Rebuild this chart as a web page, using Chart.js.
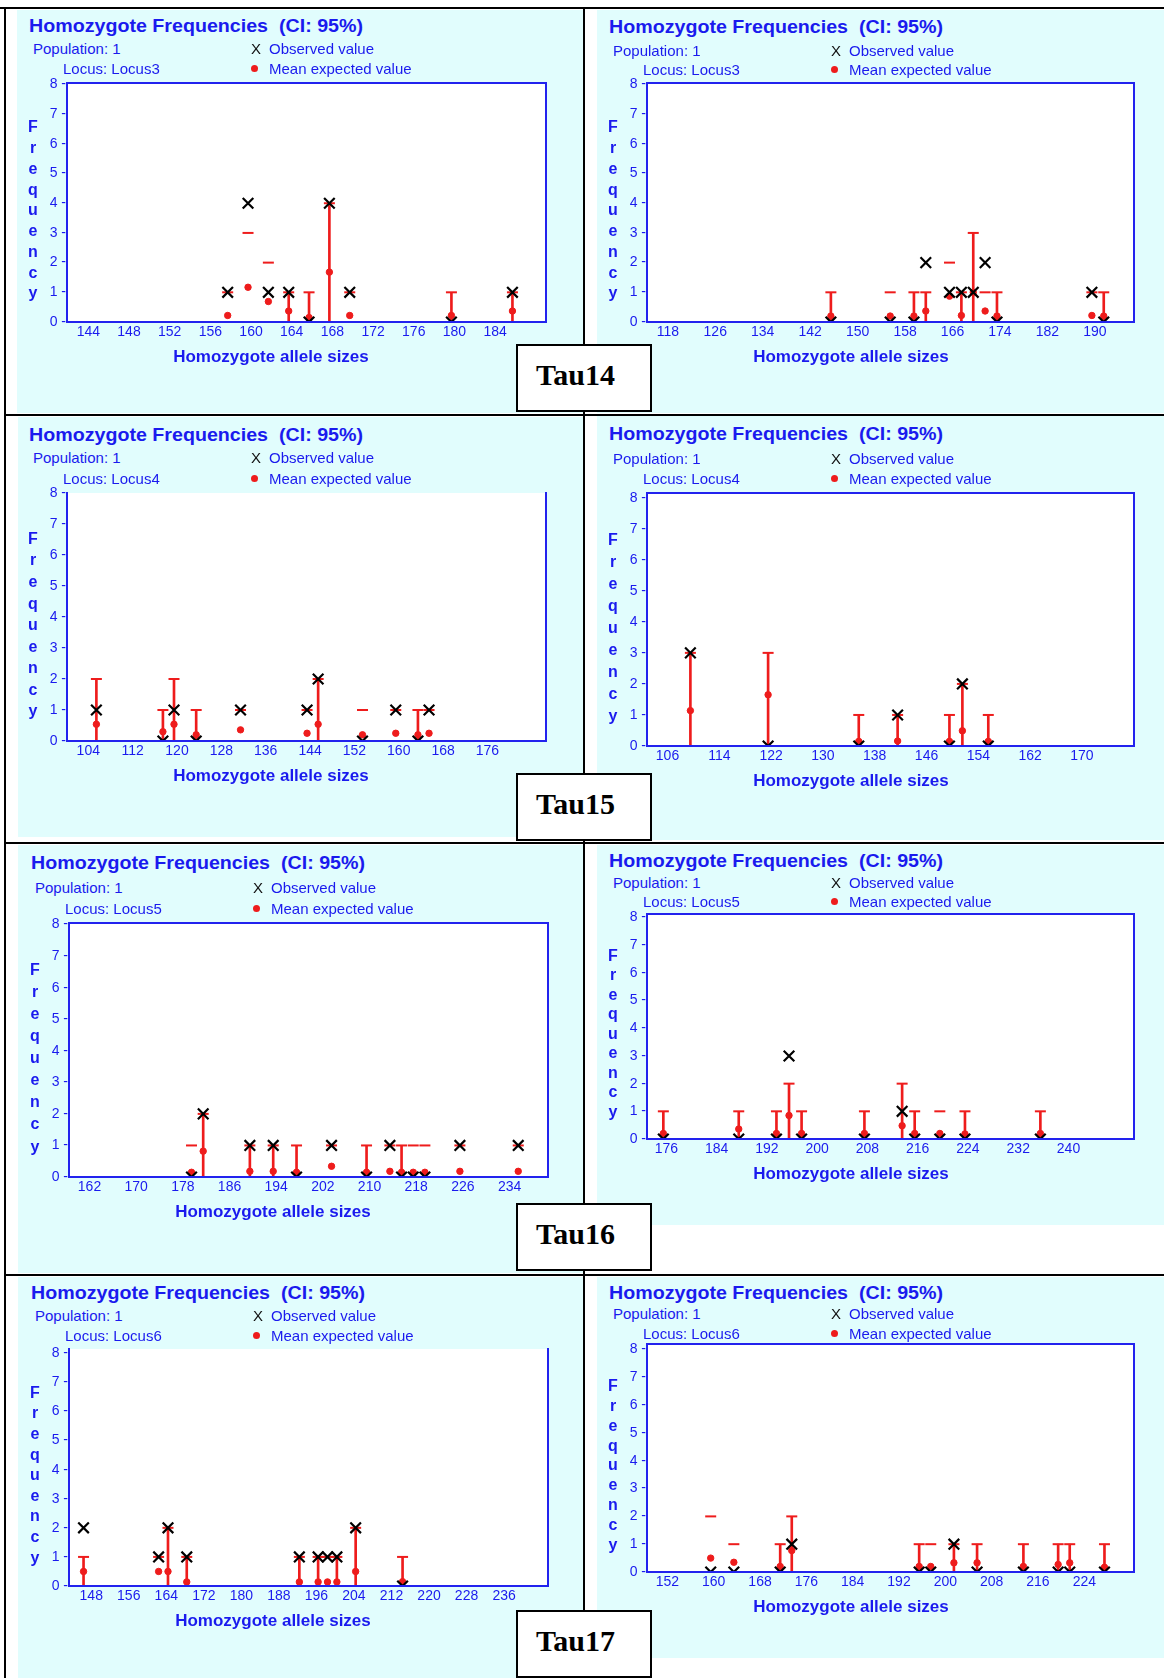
<!DOCTYPE html>
<html>
<head>
<meta charset="utf-8">
<title>Homozygote frequencies, Tau14–Tau17</title>
<script src="https://cdn.jsdelivr.net/npm/chart.js@4.4.1/dist/chart.umd.min.js"></script>
<style>
  html, body { margin: 0; padding: 0; background: #ffffff; }
  #page { position: relative; width: 1164px; height: 1678px; overflow: hidden; background: #ffffff;
          font-family: "Liberation Sans", Arial, sans-serif; }
  .abs { position: absolute; }
  .t { position: absolute; white-space: pre; }
</style>
</head>
<body>
<div id="page"></div>
<script>
// ---------- colours ----------
const BLUE = '#1a1aee';
const FRAME = '#2222ee';
const RED = '#ee1c1c';
const CYAN = '#e1fdfd';

// frequency ticks shared by every panel
const freqTicks = [0, 1, 2, 3, 4, 5, 6, 7, 8];

// ---------- Tau14, Locus3 ----------
const tau14L_ticks    = [144, 148, 152, 156, 160, 164, 168, 172, 176, 180, 184];
const tau14L_alleles  = [158, 160, 162, 164, 166, 168, 170, 180, 186];
const tau14L_observed = [1, 4, 1, 1, 0, 4, 1, 0, 1];
const tau14L_expected = [0.22, 1.17, 0.69, 0.37, 0.15, 1.68, 0.22, 0.22, 0.37];
const tau14L_ciLow    = [0, 0, 0, 0, 0, 0, 0, 0, 0];
const tau14L_ciHigh   = [1, 3, 2, 1, 1, 4, 1, 1, 1];
const tau14L_stem     = [0, 0, 0, 1, 1, 1, 0, 1, 1];

const tau14R_ticks    = [118, 126, 134, 142, 150, 158, 166, 174, 182, 190];
const tau14R_alleles  = [146, 156, 160, 162, 166, 168, 170, 172, 174, 190, 192];
const tau14R_observed = [0, 0, 0, 2, 1, 1, 1, 2, 0, 1, 0];
const tau14R_expected = [0.2, 0.2, 0.2, 0.37, 0.87, 0.22, 1.0, 0.37, 0.2, 0.22, 0.2];
const tau14R_ciLow    = [0, 0, 0, 0, 0, 0, 0, 0, 0, 0, 0];
const tau14R_ciHigh   = [1, 1, 1, 1, 2, 1, 3, 1, 1, 1, 1];
const tau14R_stem     = [1, 0, 1, 1, 0, 1, 1, 0, 1, 0, 1];

// ---------- Tau15, Locus4 ----------
const tau15L_ticks    = [104, 112, 120, 128, 136, 144, 152, 160, 168, 176];
const tau15L_alleles  = [106, 118, 120, 124, 132, 144, 146, 154, 160, 164, 166];
const tau15L_observed = [1, 0, 1, 0, 1, 1, 2, 0, 1, 0, 1];
const tau15L_expected = [0.54, 0.3, 0.54, 0.2, 0.36, 0.25, 0.54, 0.2, 0.25, 0.2, 0.25];
const tau15L_ciLow    = [0, 0, 0, 0, 0, 0, 0, 0, 0, 0, 0];
const tau15L_ciHigh   = [2, 1, 2, 1, 1, 1, 2, 1, 1, 1, 1];
const tau15L_stem     = [1, 1, 1, 1, 0, 0, 1, 0, 0, 1, 0];

const tau15R_ticks    = [106, 114, 122, 130, 138, 146, 154, 162, 170];
const tau15R_alleles  = [110, 122, 136, 142, 150, 152, 156];
const tau15R_observed = [3, 0, 0, 1, 0, 2, 0];
const tau15R_expected = [1.14, 1.65, 0.15, 0.16, 0.15, 0.49, 0.15];
const tau15R_ciLow    = [0, 0, 0, 0, 0, 0, 0];
const tau15R_ciHigh   = [3, 3, 1, 1, 1, 2, 1];
const tau15R_stem     = [1, 1, 1, 1, 1, 1, 1];

// ---------- Tau16, Locus5 ----------
const tau16L_ticks    = [162, 170, 178, 186, 194, 202, 210, 218, 226, 234];
const tau16L_alleles  = [180, 182, 190, 194, 198, 204, 210, 214, 216, 218, 220, 226, 236];
const tau16L_observed = [0, 2, 1, 1, 0, 1, 0, 1, 0, 0, 0, 1, 1];
const tau16L_expected = [0.15, 0.82, 0.18, 0.18, 0.15, 0.34, 0.15, 0.18, 0.15, 0.15, 0.15, 0.18, 0.18];
const tau16L_ciLow    = [0, 0, 0, 0, 0, 0, 0, 0, 0, 0, 0, 0, 0];
const tau16L_ciHigh   = [1, 2, 1, 1, 1, 1, 1, 1, 1, 1, 1, 1, 1];
const tau16L_stem     = [0, 1, 1, 1, 1, 0, 1, 0, 1, 0, 0, 0, 0];

const tau16R_ticks    = [176, 184, 192, 200, 208, 216, 224, 232, 240];
const tau16R_alleles  = [176, 188, 194, 196, 198, 208, 214, 216, 220, 224, 236];
const tau16R_observed = [0, 0, 0, 3, 0, 0, 1, 0, 0, 0, 0];
const tau16R_expected = [0.2, 0.36, 0.2, 0.85, 0.2, 0.2, 0.48, 0.2, 0.2, 0.18, 0.2];
const tau16R_ciLow    = [0, 0, 0, 0, 0, 0, 0, 0, 0, 0, 0];
const tau16R_ciHigh   = [1, 1, 1, 2, 1, 1, 2, 1, 1, 1, 1];
const tau16R_stem     = [1, 1, 1, 1, 1, 1, 1, 1, 0, 1, 1];

// ---------- Tau17, Locus6 ----------
const tau17L_ticks    = [148, 156, 164, 172, 180, 188, 196, 204, 212, 220, 228, 236];
const tau17L_alleles  = [147, 163, 165, 169, 193, 197, 199, 201, 205, 215];
const tau17L_observed = [2, 1, 2, 1, 1, 1, 1, 1, 2, 0];
const tau17L_expected = [0.5, 0.5, 0.5, 0.14, 0.14, 0.14, 0.14, 0.14, 0.5, 0.15];
const tau17L_ciLow    = [0, 0, 0, 0, 0, 0, 0, 0, 0, 0];
const tau17L_ciHigh   = [1, 1, 2, 1, 1, 1, 1, 1, 2, 1];
const tau17L_stem     = [1, 0, 1, 1, 1, 1, 0, 1, 1, 1];

const tau17R_ticks    = [152, 160, 168, 176, 184, 192, 200, 208, 216, 224];
const tau17R_alleles  = [160, 164, 172, 174, 196, 198, 202, 206, 214, 220, 222, 228];
const tau17R_observed = [0, 0, 0, 1, 0, 0, 1, 0, 0, 0, 0, 0];
const tau17R_expected = [0.5, 0.35, 0.2, 0.77, 0.2, 0.2, 0.33, 0.33, 0.2, 0.27, 0.33, 0.17];
const tau17R_ciLow    = [0, 0, 0, 0, 0, 0, 0, 0, 0, 0, 0, 0];
const tau17R_ciHigh   = [2, 1, 1, 2, 1, 1, 1, 1, 1, 1, 1, 1];
const tau17R_stem     = [0, 0, 1, 1, 1, 0, 1, 1, 1, 1, 1, 1];

// ---------- panel layout (plot = [left, top, width, height] of the plotting area) ----------
const panels = [
  { locus: 'Locus3', plot: [67, 83, 479, 239],  head: [26, 48, 68],       frameTop: true,  xMin: 142.2, xMax: 189.3, yMax: 8.05,
    ticks: tau14L_ticks, alleles: tau14L_alleles, observed: tau14L_observed, expected: tau14L_expected, lo: tau14L_ciLow, hi: tau14L_ciHigh, stem: tau14L_stem },
  { locus: 'Locus3', plot: [647, 83, 487, 239], head: [27, 50, 69],       frameTop: true,  xMin: 115.0, xMax: 197.1, yMax: 8.05,
    ticks: tau14R_ticks, alleles: tau14R_alleles, observed: tau14R_observed, expected: tau14R_expected, lo: tau14R_ciLow, hi: tau14R_ciHigh, stem: tau14R_stem },
  { locus: 'Locus4', plot: [67, 493, 479, 248], head: [435, 457, 478],    frameTop: false, xMin: 100.7, xMax: 187.1, yMax: 8.0,
    ticks: tau15L_ticks, alleles: tau15L_alleles, observed: tau15L_observed, expected: tau15L_expected, lo: tau15L_ciLow, hi: tau15L_ciHigh, stem: tau15L_stem },
  { locus: 'Locus4', plot: [647, 493, 487, 253], head: [434, 458, 478],   frameTop: true,  xMin: 103.3, xMax: 178.5, yMax: 8.15,
    ticks: tau15R_ticks, alleles: tau15R_alleles, observed: tau15R_observed, expected: tau15R_expected, lo: tau15R_ciLow, hi: tau15R_ciHigh, stem: tau15R_stem },
  { locus: 'Locus5', plot: [69, 923, 479, 254], head: [863, 887, 908],    frameTop: true,  xMin: 159.0, xMax: 241.1, yMax: 8.05,
    ticks: tau16L_ticks, alleles: tau16L_alleles, observed: tau16L_observed, expected: tau16L_expected, lo: tau16L_ciLow, hi: tau16L_ciHigh, stem: tau16L_stem },
  { locus: 'Locus5', plot: [647, 914, 487, 225], head: [861, 882, 901],   frameTop: true,  xMin: 173.4, xMax: 250.9, yMax: 8.13,
    ticks: tau16R_ticks, alleles: tau16R_alleles, observed: tau16R_observed, expected: tau16R_expected, lo: tau16R_ciLow, hi: tau16R_ciHigh, stem: tau16R_stem },
  { locus: 'Locus6', plot: [69, 1349, 479, 237], head: [1293, 1315, 1335], frameTop: false, xMin: 143.9, xMax: 246.0, yMax: 8.15,
    ticks: tau17L_ticks, alleles: tau17L_alleles, observed: tau17L_observed, expected: tau17L_expected, lo: tau17L_ciLow, hi: tau17L_ciHigh, stem: tau17L_stem },
  { locus: 'Locus6', plot: [647, 1344, 487, 228], head: [1293, 1313, 1333], frameTop: true, xMin: 149.0, xMax: 233.1, yMax: 8.2,
    ticks: tau17R_ticks, alleles: tau17R_alleles, observed: tau17R_observed, expected: tau17R_expected, lo: tau17R_ciLow, hi: tau17R_ciHigh, stem: tau17R_stem }
];

// sample labels in the boxes between columns
const sampleNames = ['Tau14', 'Tau15', 'Tau16', 'Tau17'];
const sampleBoxTops = [344, 773, 1203, 1610];

// ---------- page scaffolding ----------
const page = document.getElementById('page');
function rect(x, y, w, h, color) {
  const d = document.createElement('div');
  d.className = 'abs';
  d.style.cssText = `left:${x}px;top:${y}px;width:${w}px;height:${h}px;background:${color};`;
  page.appendChild(d);
  return d;
}
function text(str, x, cy, size, o = {}) {
  const d = document.createElement('div');
  d.className = 't';
  const fam = o.family || '"Liberation Sans", Arial, sans-serif';
  d.style.cssText = `left:${x}px;top:${cy - 0.56 * size}px;font:${o.weight || 'normal'} ${size}px ${fam};` +
                    `line-height:${(1.15 * size).toFixed(2)}px;color:${o.color || BLUE};`;
  d.textContent = str;
  page.appendChild(d);
  if (o.width) {               // stretch to a given width
    const w = d.getBoundingClientRect().width;
    d.style.transformOrigin = '0 50%';
    d.style.transform = `scaleX(${(o.width / w).toFixed(4)})`;
  }
  if (o.center) {              // centre horizontally on x
    const w = d.getBoundingClientRect().width;
    d.style.left = (x - w / 2) + 'px';
  }
  return d;
}

// light cyan panel backgrounds
rect(17, 10, 566, 403, CYAN);
rect(597, 10, 567, 403, CYAN);
rect(18, 417, 565, 420, CYAN);
rect(597, 416, 567, 424, CYAN);
rect(18, 845, 565, 428, CYAN);
rect(597, 845, 567, 380, CYAN);
rect(18, 1277, 565, 401, CYAN);
rect(597, 1277, 567, 381, CYAN);

// black table rules
rect(0, 7, 1164, 2, '#000');
rect(4, 7, 2, 1671, '#000');
rect(583, 7, 2, 1671, '#000');
[414, 842, 1274].forEach(y => rect(4, y, 1160, 2, '#000'));

// ---------- Chart.js plot frame plugin ----------
const plotFrame = {
  id: 'plotFrame',
  beforeDraw(chart) {
    const { ctx, chartArea: a } = chart;
    ctx.save();
    ctx.fillStyle = '#ffffff';
    ctx.fillRect(a.left, a.top, a.right - a.left, a.bottom - a.top);
    ctx.restore();
  },
  afterDatasetsDraw(chart, args, opts) {
    const { ctx, chartArea: a } = chart;
    ctx.save();
    ctx.strokeStyle = FRAME;
    ctx.lineWidth = 2;
    ctx.beginPath();
    ctx.moveTo(a.left, a.top - 1); ctx.lineTo(a.left, a.bottom + 1);
    ctx.moveTo(a.left - 1, a.bottom); ctx.lineTo(a.right + 1, a.bottom);
    ctx.moveTo(a.right, a.bottom + 1); ctx.lineTo(a.right, a.top - 1);
    if (opts.top) { ctx.moveTo(a.right + 1, a.top); ctx.lineTo(a.left - 1, a.top); }
    ctx.stroke();
    ctx.restore();
  }
};

const YW = 44, XH = 26, PT = 12, PR = 16;

function drawPanel(p) {
  const [L, T, W, H] = p.plot;
  const cw = W + YW + PR, ch = H + PT + XH;
  const holder = document.createElement('div');
  holder.className = 'abs';
  holder.style.cssText = `left:${L - YW}px;top:${T - PT}px;width:${cw}px;height:${ch}px;`;
  const cv = document.createElement('canvas');
  cv.width = cw; cv.height = ch;
  cv.style.width = cw + 'px'; cv.style.height = ch + 'px';
  holder.appendChild(cv);
  page.appendChild(holder);

  const caps = p.alleles.map((a, i) => ({ x: a, y: p.hi[i] }))
    .concat(p.alleles.map((a, i) => ({ x: a, y: p.lo[i] })));

  new Chart(cv, {
    type: 'scatter',
    data: {
      datasets: [
        { type: 'scatter', label: 'Observed value',
          data: p.alleles.map((a, i) => ({ x: a, y: p.observed[i] })),
          pointStyle: 'crossRot', pointRadius: 7.5, borderColor: '#000', borderWidth: 2.2, order: 0 },
        { type: 'scatter', label: 'Mean expected value',
          data: p.alleles.map((a, i) => ({ x: a, y: p.expected[i] })),
          pointStyle: 'circle', pointRadius: 3.2, backgroundColor: RED, borderColor: RED, borderWidth: 1, order: 1 },
        { type: 'scatter', label: 'CI limits', data: caps,
          pointStyle: 'line', pointRadius: 5.5, borderColor: RED, borderWidth: 2, order: 2 },
        { type: 'bar', label: 'CI 95%',
          data: p.alleles.map((a, i) => ({ x: a, y: [p.lo[i], p.hi[i]] })),
          backgroundColor: p.stem.map(s => s ? RED : 'rgba(0,0,0,0)'),
          borderWidth: 0, barThickness: 2, grouped: false, order: 3 }
      ]
    },
    options: {
      responsive: false, animation: false, devicePixelRatio: 1,
      layout: { padding: { top: PT, right: PR, left: 0, bottom: 0 } },
      plugins: { legend: { display: false }, tooltip: { enabled: false }, plotFrame: { top: p.frameTop } },
      scales: {
        x: {
          type: 'linear', min: p.xMin, max: p.xMax, offset: false,
          grid: { display: false, drawTicks: false, offset: false }, border: { display: false },
          afterBuildTicks: s => { s.ticks = p.ticks.map(v => ({ value: v })); },
          afterFit: s => { s.height = XH; },
          ticks: { color: BLUE, font: { family: '"Liberation Sans", Arial, sans-serif', size: 14 },
                   padding: 2, labelOffset: 3, maxRotation: 0, autoSkip: false, callback: v => String(v) }
        },
        y: {
          type: 'linear', min: 0, max: p.yMax,
          grid: { display: false, drawTicks: false }, border: { display: false },
          afterBuildTicks: s => { s.ticks = freqTicks.map(v => ({ value: v })); },
          afterFit: s => { s.width = YW; },
          ticks: { color: BLUE, font: { family: '"Liberation Sans", Arial, sans-serif', size: 14 },
                   padding: 1, autoSkip: false, callback: v => v + ' -' }
        }
      }
    },
    plugins: [plotFrame]
  });

  // header, legend and axis titles
  text('Homozygote Frequencies  (CI: 95%)', L - 38, p.head[0], 18, { weight: 'bold', width: 334 });
  text('Population: 1', L - 34, p.head[1], 15);
  text('Locus: ' + p.locus, L - 4, p.head[2], 15);
  text('X', L + 184, p.head[1], 15, { color: '#111' });
  text('Observed value', L + 202, p.head[1], 15);
  const dot = rect(L + 184, p.head[2] - 3, 7, 7, RED);
  dot.style.borderRadius = '50%';
  text('Mean expected value', L + 202, p.head[2], 15);

  const word = 'Frequency';
  const y0 = T + 0.185 * H, y1 = T + 0.88 * H;
  for (let i = 0; i < word.length; i++) {
    text(word[i], L - 34, y0 + (y1 - y0) * i / (word.length - 1), 16, { weight: 'bold', center: true });
  }
  text('Homozygote allele sizes', L + 204, T + H + 35, 17, { weight: 'bold', center: true });
}

panels.forEach(drawPanel);

// sample boxes
sampleNames.forEach((name, i) => {
  const top = sampleBoxTops[i];
  const b = rect(516, top, 136, 68, '#ffffff');
  b.style.boxSizing = 'border-box';
  b.style.border = '2px solid #000';
  text(name, 536, top + 31, 30, { family: '"Liberation Serif", "Times New Roman", serif', weight: 'bold', color: '#000' });
});
</script>
</body>
</html>
